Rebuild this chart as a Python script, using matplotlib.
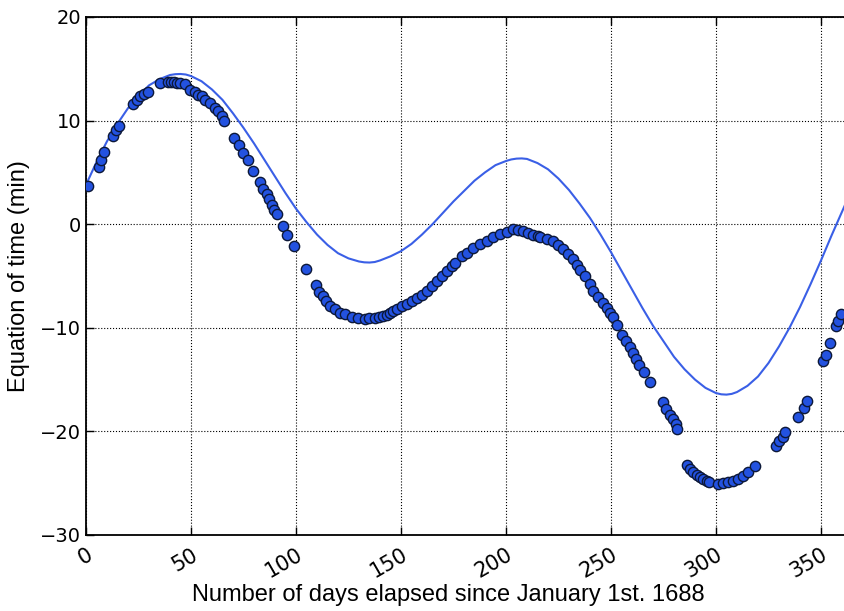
import matplotlib
matplotlib.use("Agg")
import matplotlib.pyplot as plt

# smooth equation-of-time curve (extra samples around the turning points)
curve_days = [0, 5, 10, 15, 20, 25, 30, 35, 40, 42.5, 45, 47.5, 50, 55,
              60, 65, 70, 75, 80, 85, 90, 95, 100, 105, 110, 115, 120,
              125, 130, 132.5, 135, 137.5, 140, 145, 150, 155, 160, 165,
              170, 175, 180, 185, 190, 195, 200, 202.5, 205, 207.5, 210,
              215, 220, 225, 230, 235, 240, 245, 250, 255, 260, 265, 270,
              275, 280, 285, 290, 295, 300, 302.5, 305, 307.5, 310, 315,
              320, 325, 330, 335, 340, 345, 350, 355, 360, 365]
curve_min = [3.8, 6.0, 8.0, 9.7, 11.2, 12.4, 13.4, 14.0, 14.4, 14.48, 14.5,
             14.45, 14.3, 13.8,
             13.0, 12.0, 10.7, 9.3, 7.8, 6.2, 4.6, 3.0, 1.5, 0.2, -1.0, -2.0, -2.8,
             -3.3, -3.6, -3.68, -3.7, -3.65, -3.5, -3.1, -2.6, -1.9, -1.0, 0.0,
             1.1, 2.2, 3.2, 4.2, 5.0, 5.7, 6.1, 6.25, 6.33, 6.35, 6.3,
             5.9, 5.3, 4.4, 3.3, 2.0, 0.6, -1.0, -2.7, -4.5, -6.3, -8.1, -9.8,
             -11.3, -12.8, -14.0, -15.0, -15.8, -16.3, -16.42, -16.45, -16.38, -16.2, -15.6,
             -14.7, -13.4, -11.8, -10.0, -8.0, -5.8, -3.5, -1.1, 1.2, 3.5]

# observed values
obs_days = [1.1, 6.2, 7.0, 8.7, 12.7, 14.3, 15.7, 22.5, 24.1, 25.7,
            27.5, 29.7, 35.2, 39.0, 40.5, 42.0, 43.5, 45.0, 47.1, 49.5,
            51.9, 53.5, 55.1, 56.7, 59.0, 61.4, 63.0, 64.6, 65.7,
            70.6, 72.9, 74.6, 77.0, 79.7, 82.9, 84.4, 86.0, 87.3, 88.4,
            89.7, 90.8, 93.6, 95.9, 99.0, 104.8, 109.5, 111.1, 112.7, 114.3,
            116.2, 118.6, 121.0, 123.3, 126.5, 129.7, 132.9, 135.0, 137.6, 139.5,
            141.6, 143.2, 144.8, 146.4, 148.0, 150.3, 152.7, 155.1, 157.5, 159.9,
            162.2, 164.6, 167.0, 169.4, 171.7, 174.1, 175.7,
            178.9, 181.3, 184.4, 187.6, 190.8, 193.9, 197.1, 200.3, 203.5, 205.8,
            208.2, 210.6, 213.0, 215.4, 216.2, 219.4, 222.5, 224.9, 227.3, 229.7,
            232.0, 233.7, 235.2, 237.6, 240.0, 241.6, 244.0, 246.3, 247.9, 249.5,
            251.1, 252.7, 255.1, 257.1, 259.0, 260.6, 261.9, 263.5, 265.7, 268.6,
            274.6, 276.2, 278.1, 279.7, 281.0, 281.6,
            286.0, 287.6, 289.2, 290.8, 292.4, 293.9, 295.6, 296.8,
            301.1, 303.5, 305.9, 308.2, 310.6, 313.0, 315.4, 318.6,
            328.6, 330.1, 331.7, 332.9, 339.2, 341.9, 343.2,
            351.1, 352.4, 354.3, 357.1, 358.2, 359.4]
obs_min = [3.7, 5.5, 6.2, 7.0, 8.5, 9.1, 9.5, 11.6, 12.0, 12.4,
           12.6, 12.8, 13.6, 13.7, 13.7, 13.7, 13.65, 13.6, 13.5, 13.0,
           12.8, 12.5, 12.4, 12.0, 11.7, 11.2, 10.9, 10.4, 10.0,
           8.3, 7.6, 6.9, 6.2, 5.1, 4.05, 3.35, 2.9, 2.4, 1.9,
           1.4, 1.0, -0.2, -1.0, -2.1, -4.3, -5.9, -6.5, -6.95, -7.4,
           -7.9, -8.2, -8.6, -8.7, -9.0, -9.1, -9.15, -9.1, -9.05, -9.0,
           -8.9, -8.75, -8.6, -8.4, -8.2, -7.9, -7.7, -7.4, -7.1, -6.8,
           -6.4, -6.0, -5.5, -5.0, -4.5, -4.05, -3.7,
           -3.1, -2.8, -2.3, -1.95, -1.6, -1.25, -0.95, -0.75, -0.5, -0.55,
           -0.7, -0.85, -1.0, -1.15, -1.2, -1.4, -1.6, -2.0, -2.4, -2.9,
           -3.4, -3.9, -4.4, -5.0, -5.8, -6.4, -7.0, -7.6, -8.1, -8.6,
           -9.0, -9.7, -10.65, -11.3, -11.9, -12.4, -13.0, -13.6, -14.3, -15.25,
           -17.15, -17.8, -18.4, -18.85, -19.3, -19.8,
           -23.2, -23.6, -23.9, -24.2, -24.4, -24.6, -24.75, -24.9,
           -25.05, -24.95, -24.9, -24.8, -24.6, -24.3, -23.9, -23.3,
           -21.4, -20.9, -20.5, -20.05, -18.6, -17.7, -17.1,
           -13.2, -12.6, -11.5, -9.85, -9.3, -8.7]

x_ticks = [0, 50, 100, 150, 200, 250, 300, 350]
y_ticks = [-30, -20, -10, 0, 10, 20]

fig = plt.figure(figsize=(8.45, 6.11), dpi=100)
# the plotting area runs past the right-hand edge of the canvas
ax = fig.add_axes([86 / 845, 76 / 611, 766.5 / 845, 518 / 611])

ax.plot(curve_days, curve_min, color="#3a5fe6", lw=1.5, zorder=2)
ax.plot(obs_days, obs_min, "o", ms=7.4, mfc="#2352e0", mec="#0c1838",
        mew=1.0, ls="none", zorder=3)

ax.set_xlim(0, 365)
ax.set_ylim(-30, 20)
ax.set_xticks(x_ticks)
ax.set_yticks(y_ticks)
ax.grid(True, color="black", ls=":", lw=0.8)
ax.tick_params(direction="in", length=6, width=1, labelsize=14,
               top=True, right=True)
ax.tick_params(axis="x", labelsize=15, pad=7)
for lab in ax.get_xticklabels():
    lab.set_rotation(30)
    lab.set_ha("right")
    lab.set_rotation_mode("anchor")
for sp in ax.spines.values():
    sp.set_linewidth(1.3)

ax.set_xlabel("Number of days elapsed since January 1st. 1688",
              family="Liberation Sans", fontsize=17)
ax.xaxis.set_label_coords((448 - 86) / 766.5, -49 / 518)
ax.set_ylabel("Equation of time (min)", family="Liberation Sans", fontsize=17)
ax.yaxis.set_label_coords(-56 / 766.5, 0.5)

fig.savefig("out.png", dpi=100, facecolor="white")
